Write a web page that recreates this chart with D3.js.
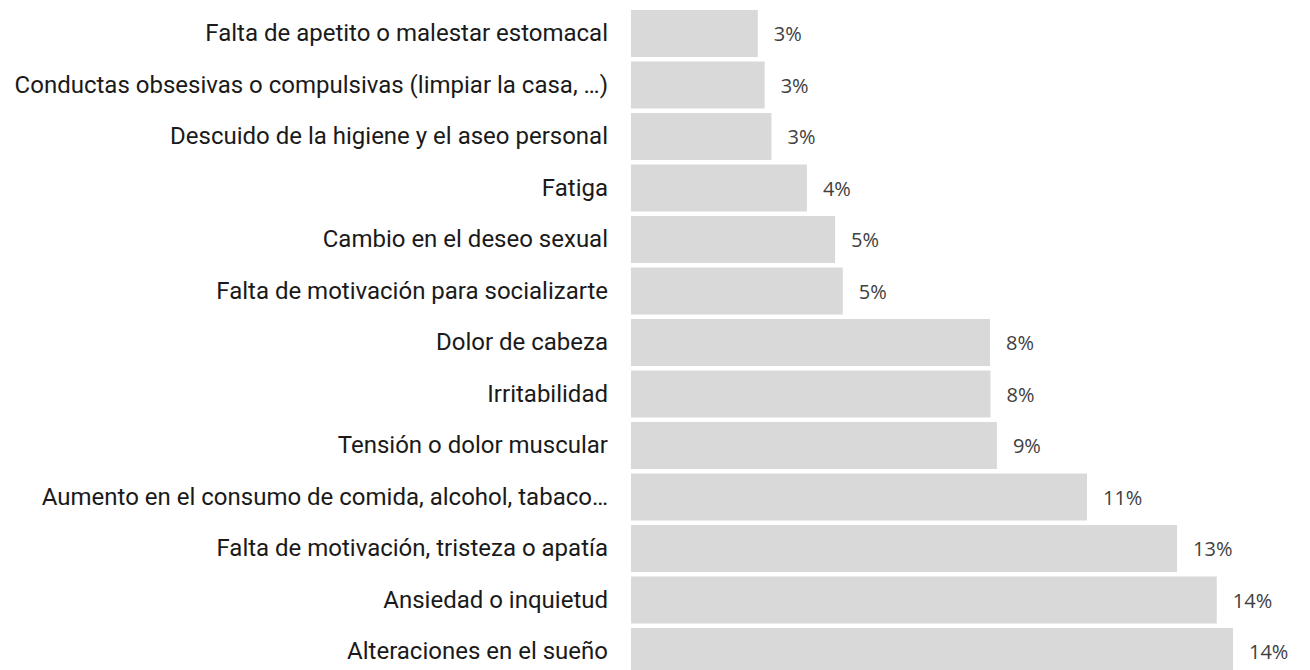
<head>
    <meta charset="utf-8">
    <script src="https://d3js.org/d3.v7.min.js"></script>
    <style>
        body {
            margin: 0;
            background: #fff;
        }
    </style>
</head>

<body>

<svg width="1310" height="670"></svg>

<script>

    // categories, top to bottom
    var symptoms = [
        "Falta de apetito o malestar estomacal",
        "Conductas obsesivas o compulsivas (limpiar la casa, …)",
        "Descuido de la higiene y el aseo personal",
        "Fatiga",
        "Cambio en el deseo sexual",
        "Falta de motivación para socializarte",
        "Dolor de cabeza",
        "Irritabilidad",
        "Tensión o dolor muscular",
        "Aumento en el consumo de comida, alcohol, tabaco…",
        "Falta de motivación, tristeza o apatía",
        "Ansiedad o inquietud",
        "Alteraciones en el sueño"
    ];

    // share of answers, in %
    var shares = [2.97, 3.13, 3.29, 4.12, 4.78, 4.96, 8.41, 8.42, 8.57, 10.68, 12.79, 13.72, 14.10];

    var data = symptoms.map((d, i) => ({name: d, value: shares[i]}));

    var svg = d3.select("svg");

    var x = d3.scaleLinear()
        .domain([0, d3.max(shares)])
        .range([631, 1233]);

    var y = d3.scaleBand()
        .domain(symptoms)
        .range([7.75, 7.75 + 13 * 51.5])
        .paddingInner(0.0874)
        .paddingOuter(0.0437);

    //
    // bars
    //

    svg.selectAll(".bar")
        .data(data)
        .enter().append("rect")
        .attr("class", "bar")
        .attr("x", x(0))
        .attr("y", d => y(d.name))
        .attr("width", d => x(d.value) - x(0))
        .attr("height", y.bandwidth())
        .attr("fill", "#d9d9d9");

    //
    // value labels
    //

    svg.selectAll(".val")
        .data(data)
        .enter().append("text")
        .attr("class", "val")
        .attr("x", d => x(d.value) + 16)
        .attr("y", d => y(d.name) + y.bandwidth() / 2 + 0.5)
        .attr("dy", "0.35em")
        .style("font", "20px 'Open Sans'")
        .attr("fill", "#404040")
        .text(d => Math.round(d.value) + "%");

    //
    // category labels (axis without line)
    //

    var yAxis = svg.append("g")
        .attr("transform", "translate(" + (x(0) - 14) + ",0)")
        .call(d3.axisLeft(y).tickSize(0).tickPadding(9));

    yAxis.select(".domain").remove();
    yAxis.selectAll("text")
        .style("font", "24px Roboto")
        .attr("fill", "#1a1a1a");

</script>
</body>
